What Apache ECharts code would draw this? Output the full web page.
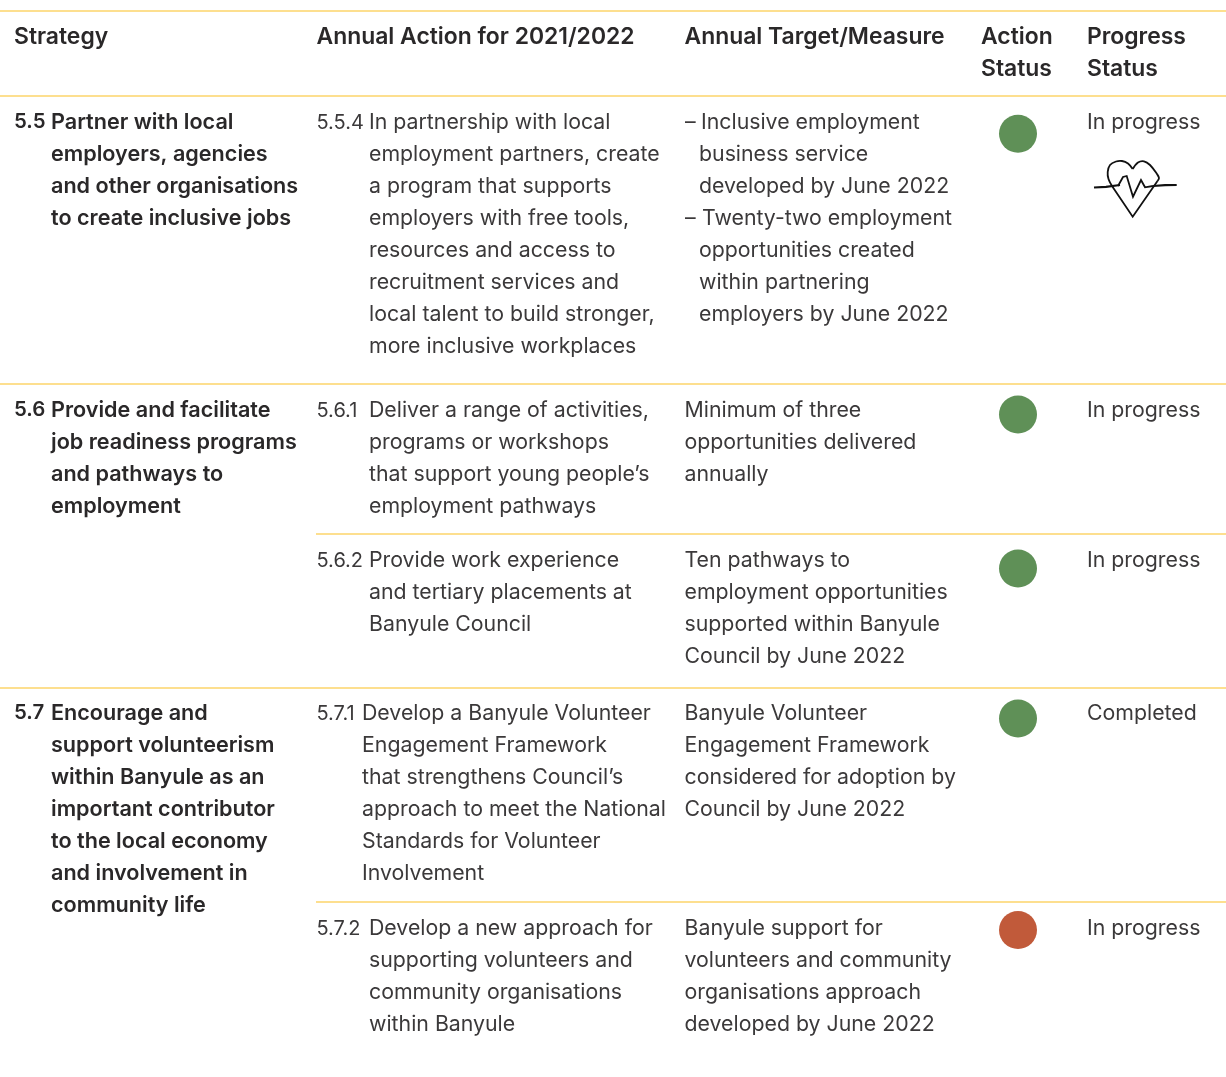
<!DOCTYPE html>
<html><head><meta charset="utf-8">
<style>html,body{margin:0;padding:0;background:#fff}#c{width:1226px;height:1077px}</style>
<script src="https://cdn.jsdelivr.net/npm/echarts@6/dist/echarts.min.js"></script>
</head><body><div id="c"></div>
<script>
const headers = ["Strategy", "Annual Action for 2021/2022", "Annual Target/Measure", "Action\nStatus", "Progress\nStatus"];
const strategyIds = ["5.5", "5.6", "5.7"];
const strategyTexts = [
  "Partner with local\nemployers, agencies\nand other organisations\nto create inclusive jobs",
  "Provide and facilitate\njob readiness programs\nand pathways to\nemployment",
  "Encourage and\nsupport volunteerism\nwithin Banyule as an\nimportant contributor\nto the local economy\nand involvement in\ncommunity life"
];
const actionIds = ["5.5.4", "5.6.1", "5.6.2", "5.7.1", "5.7.2"];
const actionTexts = [
  "In partnership with local\nemployment partners, create\na program that supports\nemployers with free tools,\nresources and access to\nrecruitment services and\nlocal talent to build stronger,\nmore inclusive workplaces",
  "Deliver a range of activities,\nprograms or workshops\nthat support young people’s\nemployment pathways",
  "Provide work experience\nand tertiary placements at\nBanyule Council",
  "Develop a Banyule Volunteer\nEngagement Framework\nthat strengthens Council’s\napproach to meet the National\nStandards for Volunteer\nInvolvement",
  "Develop a new approach for\nsupporting volunteers and\ncommunity organisations\nwithin Banyule"
];
const targetTexts = [
  null,
  "Minimum of three\nopportunities delivered\nannually",
  "Ten pathways to\nemployment opportunities\nsupported within Banyule\nCouncil by June 2022",
  "Banyule Volunteer\nEngagement Framework\nconsidered for adoption by\nCouncil by June 2022",
  "Banyule support for\nvolunteers and community\norganisations approach\ndeveloped by June 2022"
];
const bulletTargets = [
  "Inclusive employment\nbusiness service\ndeveloped by June 2022",
  "Twenty-two employment\nopportunities created\nwithin partnering\nemployers by June 2022"
];
const actionStatus = ["green", "green", "green", "green", "red"];
const progressStatus = ["In progress", "In progress", "In progress", "Completed", "In progress"];

// layout only
const F = 'Inter', INK = '#2a2829', BODY = '#3b393a', RULE = '#fdd56a';
const FS = 21.3, BFS = 21.6, HFS = 22.9, IDFS = 20, LH = 32;
const colX = {sid:14, stext:51, aid:316.5, atext:369, target:684.5, dot:1018, prog:1087};
const rowY = [123, 411, 561, 714, 929];
const stratY = [122, 410, 713];
const dotY = [133.7, 414.5, 568.5, 718.5, 930];
const statusColor = {green:'#5f9057', red:'#c15a3a'};
const rules = [[0,11],[0,96],[0,384],[316,534],[0,688],[316,902]];

const T = (x,y,s,b,fs) => ({type:'text', silent:true, style:{x, y:y-LH/2, text:s, fill:b?INK:BODY,
  fontFamily:F, fontSize:fs||FS, fontWeight:b?600:400, lineHeight:LH, verticalAlign:'top', align:'left'}});

const g = [];
rules.forEach(r => g.push({type:'line', silent:true, shape:{x1:r[0],y1:r[1],x2:1226,y2:r[1]}, style:{stroke:RULE,lineWidth:1.4}}));
[14,316.5,684.5,981,1087].forEach((x,i)=>g.push(T(x,37,headers[i],true,HFS)));
strategyIds.forEach((id,i)=>{g.push(T(colX.sid,stratY[i],id,true,IDFS+0.4)); g.push(T(colX.stext,stratY[i],strategyTexts[i],true,BFS));});
actionIds.forEach((id,i)=>{
  g.push(T(colX.aid,rowY[i],id,false,IDFS));
  g.push(T(i==3?362:colX.atext,rowY[i],actionTexts[i],false));
  if (targetTexts[i]) g.push(T(colX.target,rowY[i],targetTexts[i],false));
  g.push(T(colX.prog,rowY[i],progressStatus[i],false));
});
g.push(T(685,123,'–',false)); g.push(T(701,123,bulletTargets[0].split('\n')[0],false));
g.push(T(699,155,bulletTargets[0].split('\n').slice(1).join('\n'),false));
g.push(T(685,219,'–',false)); g.push(T(702,219,bulletTargets[1].split('\n')[0],false));
g.push(T(699,251,bulletTargets[1].split('\n').slice(1).join('\n'),false));
// heart icon (decoration)
const ICON = {stroke:'#111',lineWidth:1.8,fill:'none'};
const poly = (pts,smooth,w) => g.push({type:'polyline',silent:true,shape:{points:pts,smooth:smooth||0},style:Object.assign({},ICON,w?{lineWidth:w}:{})});
poly([[1094,187.5],[1106,186.8],[1120,185]],0,2.2);
poly([[1153,186],[1165,185.2],[1176.7,185]],0,2.2);
poly([[1132.7,169],[1128,163.5],[1122,161],[1116,161.5],[1110,165],[1107.7,172],[1108.5,179],[1112,186]],0.35);
poly([[1112,186],[1132.7,216.7],[1157.5,181]]);
poly([[1157.5,181],[1159,178],[1157,174],[1150,165],[1144,161.3],[1138,162.5],[1132.7,169]],0.35);
poly([[1118,186],[1123,177],[1126.7,176],[1133,196.7],[1141,180],[1145,187.3],[1153,186]]);

const option = {
  animation:false,
  grid:{left:0,right:0,top:0,bottom:0},
  xAxis:{type:'value',min:0,max:1226,show:false},
  yAxis:{type:'value',min:0,max:1077,inverse:true,show:false},
  series:[{type:'scatter',silent:true,symbol:'circle',symbolSize:38,
    data:actionStatus.map((s,i)=>({value:[colX.dot,dotY[i]],itemStyle:{color:statusColor[s],opacity:1}}))}],
  graphic:{elements:g}
};
echarts.init(document.getElementById('c'),null,{renderer:'canvas'}).setOption(option);
</script></body></html>
